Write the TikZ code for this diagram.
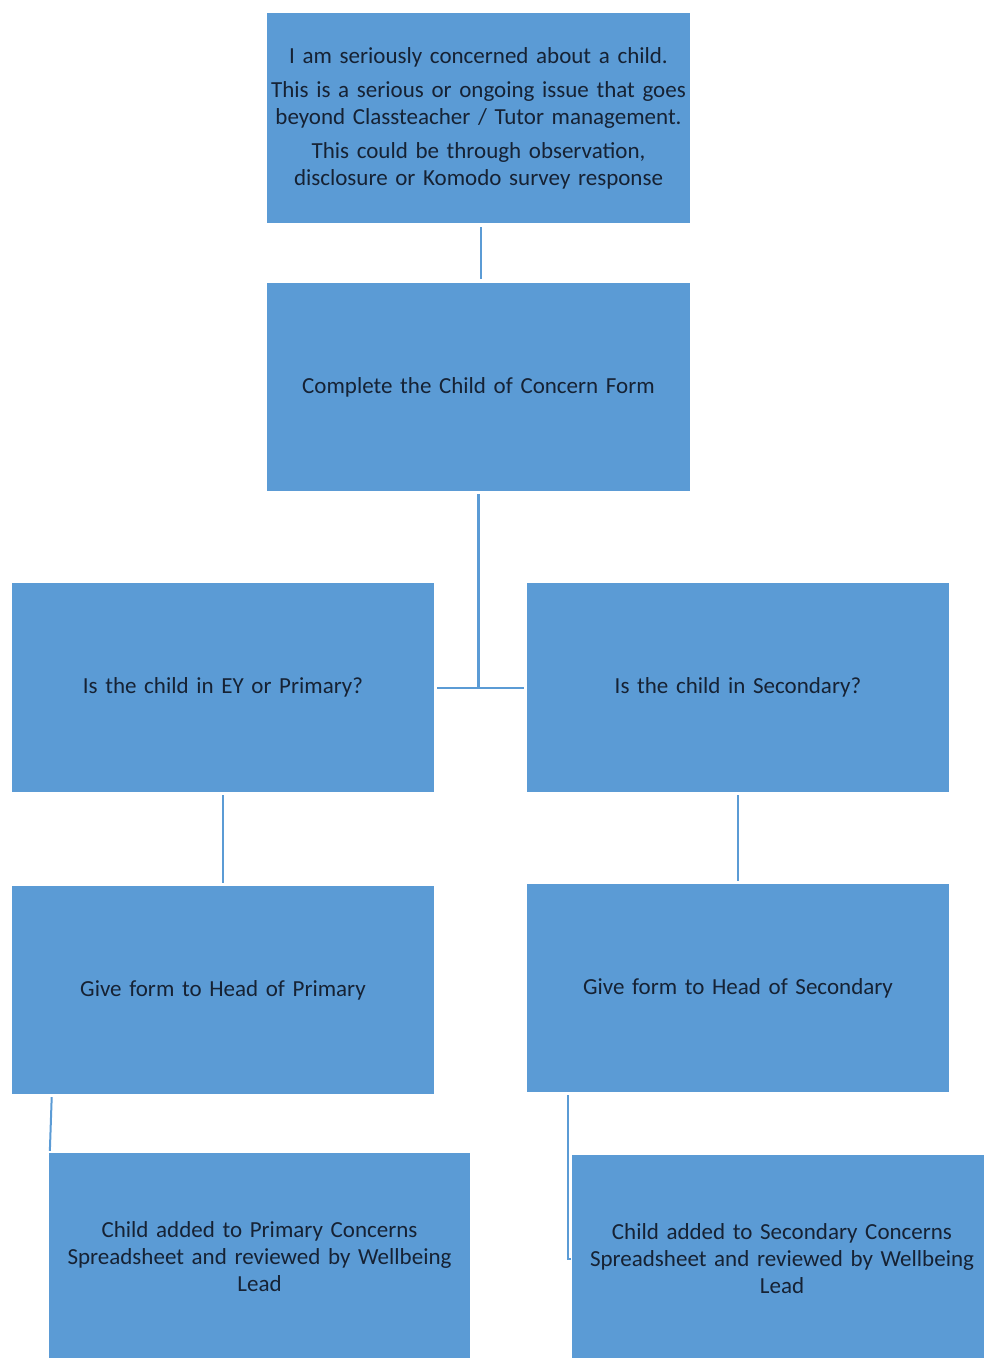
\documentclass[tikz,border=0pt]{standalone}
\usepackage{fontspec}
\setmainfont{Carlito}[WordSpace={0.85}]
\usepackage{xcolor}
\usepackage{tikz}
\usetikzlibrary{positioning}

\definecolor{boxblue}{RGB}{91,155,213}
\definecolor{boxtext}{RGB}{22,34,52}

\begin{document}
\begin{tikzpicture}[x=1pt, y=-1pt,
    stagebox/.style={rectangle, fill=boxblue, draw=none, inner sep=0pt,
      minimum width=422pt, minimum height=209pt, text width=420pt,
      align=center, text=boxtext, font=\fontsize{23}{27}\selectfont},
    link/.style={draw=boxblue, line width=2pt}]
  \useasboundingbox (0,0) rectangle (984,1358);

  \node[stagebox, minimum width=423pt, minimum height=210pt] (concern) at (478.5,118)
    {I am seriously concerned about a child.\\[7pt]
     This is a serious or ongoing issue that goes\\
     beyond Classteacher / Tutor management.\\[7pt]
     This could be through observation,\\
     disclosure or Komodo survey response};
  \node[stagebox, minimum width=423pt, minimum height=208pt] (form) at (478.5,387)
    {Complete the Child of Concern Form};

  \node[stagebox] (primary) at (223,687.5) {Is the child in EY or Primary?};
  \node[stagebox] (secondary) at (738,687.5) {Is the child in Secondary?};

  \node[stagebox, minimum height=208pt] (headprim) at (223,990)
    {Give form to Head of Primary};
  \node[stagebox, minimum height=208pt] (headsec) at (738,988)
    {Give form to Head of Secondary};

  \node[stagebox, minimum width=421pt, minimum height=208pt] (sheetprim) at (259.5,1257)
    {Child added to Primary Concerns\\ Spreadsheet and reviewed by Wellbeing\\ Lead};
  \node[stagebox, minimum width=421pt, minimum height=208pt] (sheetsec) at (782,1259)
    {Child added to Secondary Concerns\\ Spreadsheet and reviewed by Wellbeing\\ Lead};

  \coordinate (split) at (form.south |- primary.east);

  \draw[link, shorten <=4pt, shorten >=4pt] ([xshift=2.5pt]concern.south) -- ([xshift=2.5pt]form.north);
  \draw[link, line width=3pt, shorten <=3pt] (form.south) -- (split);
  \draw[link, shorten <=3pt, shorten >=3pt] (primary.east) -- (secondary.west);
  \draw[link, shorten <=3pt, shorten >=3pt] (primary.south) -- (headprim.north);
  \draw[link, shorten <=3pt, shorten >=3pt] (secondary.south) -- (headsec.north);
  \draw[link, shorten <=3pt, shorten >=2pt] ([xshift=40pt]headprim.south west) -- ([xshift=1pt]sheetprim.north west);
  \draw[link, shorten <=3pt] ([xshift=41pt]headsec.south west) |- (sheetsec.west);
\end{tikzpicture}
\end{document}
